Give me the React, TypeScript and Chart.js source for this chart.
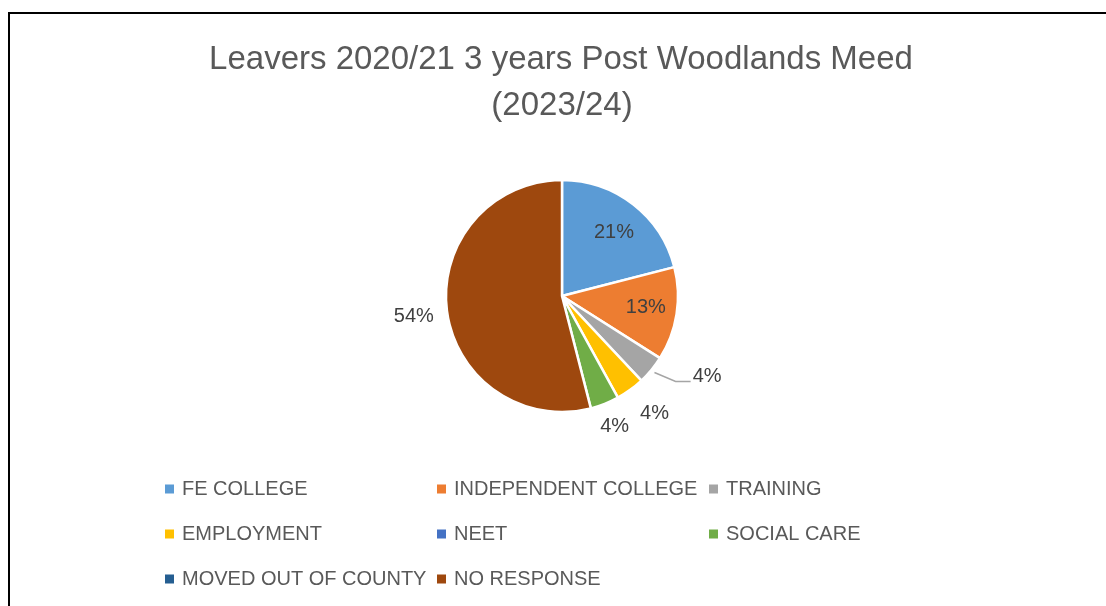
import React, { useEffect, useRef } from "react";
import { Chart, registerables } from "chart.js";

Chart.register(...registerables);

const TITLE_LINES = ["Leavers 2020/21 3 years Post Woodlands Meed", "(2023/24)"];
const CATEGORIES = [
  "FE COLLEGE",
  "INDEPENDENT COLLEGE",
  "TRAINING",
  "EMPLOYMENT",
  "NEET",
  "SOCIAL CARE",
  "MOVED OUT OF COUNTY",
  "NO RESPONSE",
];
const SHARES = [21, 13, 4, 4, 0, 4, 0, 54];
const COLORS = ["#5B9BD5", "#ED7D31", "#A5A5A5", "#FFC000", "#4472C4", "#70AD47", "#255E91", "#9E480E"];

// label placement style: distance as fraction of radius, angular shift in degrees, leader line
const LABEL_STYLE = [
  { dist: 0.71, shift: 1.3, leader: false },
  { dist: 0.73, shift: -0.9, leader: false },
  { dist: 1.43, shift: -10.6, leader: true },
  { dist: 1.29, shift: -2.2, leader: false },
  { dist: 1.2, shift: 0, leader: false },
  { dist: 1.21, shift: -0.4, leader: false },
  { dist: 1.2, shift: 0, leader: false },
  { dist: 1.29, shift: -0.8, leader: false },
];

const FONT = "'Liberation Sans', Arial, sans-serif";

const titlePlugin = {
  id: "customTitle",
  afterDraw(chart: any) {
    const ctx = chart.ctx;
    ctx.save();
    ctx.fillStyle = "#595959";
    ctx.font = `33px ${FONT}`;
    ctx.textAlign = "center";
    ctx.textBaseline = "middle";
    ctx.fillText(TITLE_LINES[0], 551, 45.5);
    ctx.fillText(TITLE_LINES[1], 552, 91.5);
    ctx.restore();
  },
};

const labelPlugin = {
  id: "pieLabels",
  afterDatasetsDraw(chart: any) {
    const ctx = chart.ctx;
    const meta = chart.getDatasetMeta(0);
    const values = chart.data.datasets[0].data;
    ctx.save();
    ctx.font = `20px ${FONT}`;
    ctx.fillStyle = "#404040";
    ctx.textAlign = "center";
    ctx.textBaseline = "middle";
    meta.data.forEach((arc: any, i: number) => {
      const v = values[i];
      if (!v) return;
      const st = LABEL_STYLE[i];
      const p = arc.getProps(["x", "y", "startAngle", "endAngle", "outerRadius"], true);
      const mid = (p.startAngle + p.endAngle) / 2;
      const a = mid + (st.shift * Math.PI) / 180;
      const lx = p.x + Math.cos(a) * p.outerRadius * st.dist;
      const ly = p.y + Math.sin(a) * p.outerRadius * st.dist;
      const text = `${v}%`;
      ctx.fillText(text, lx, ly);
      if (st.leader) {
        const w = ctx.measureText(text).width;
        const left = lx - w / 2;
        const x0 = p.x + Math.cos(mid) * (p.outerRadius + 4);
        const y0 = p.y + Math.sin(mid) * (p.outerRadius + 4);
        ctx.strokeStyle = "#A5A5A5";
        ctx.lineWidth = 1.5;
        ctx.beginPath();
        ctx.moveTo(x0, y0);
        ctx.lineTo(left - 17, ly + 5);
        ctx.lineTo(left - 2, ly + 5);
        ctx.stroke();
      }
    });
    ctx.restore();
  },
};

const legendPlugin = {
  id: "gridLegend",
  afterDraw(chart: any) {
    const ctx = chart.ctx;
    const labels = chart.data.labels as string[];
    const colors = chart.data.datasets[0].backgroundColor as string[];
    ctx.save();
    ctx.font = `20px ${FONT}`;
    ctx.textAlign = "left";
    ctx.textBaseline = "middle";
    labels.forEach((lab, i) => {
      const col = i % 3;
      const row = Math.floor(i / 3);
      const bx = 155 + col * 272;
      const cy = 475 + row * 45;
      ctx.fillStyle = colors[i];
      ctx.fillRect(bx, cy - 4.5, 9, 9);
      ctx.fillStyle = "#595959";
      ctx.fillText(lab, bx + 17, cy);
    });
    ctx.restore();
  },
};

export default function App() {
  const ref = useRef<HTMLCanvasElement | null>(null);
  useEffect(() => {
    if (!ref.current) return;
    const chart = new Chart(ref.current, {
      type: "pie",
      data: {
        labels: CATEGORIES,
        datasets: [
          {
            data: SHARES,
            backgroundColor: COLORS,
            borderColor: "#FFFFFF",
            borderWidth: 2.5,
          },
        ],
      },
      options: {
        animation: false,
        responsive: true,
        maintainAspectRatio: false,
        radius: 116,
        layout: { padding: { left: 106, right: 98, top: 100, bottom: 128 } },
        plugins: {
          legend: { display: false },
          title: { display: false },
          tooltip: { enabled: false },
        },
      } as any,
      plugins: [titlePlugin, labelPlugin, legendPlugin],
    });
    return () => chart.destroy();
  }, []);

  return (
    <div
      style={{
        position: "fixed",
        left: 8,
        top: 12,
        width: 1096,
        height: 592,
        borderLeft: "2px solid #000",
        borderTop: "2px solid #000",
        background: "#fff",
      }}
    >
      <div style={{ position: "relative", width: 1096, height: 592 }}>
        <canvas ref={ref} />
      </div>
    </div>
  );
}
